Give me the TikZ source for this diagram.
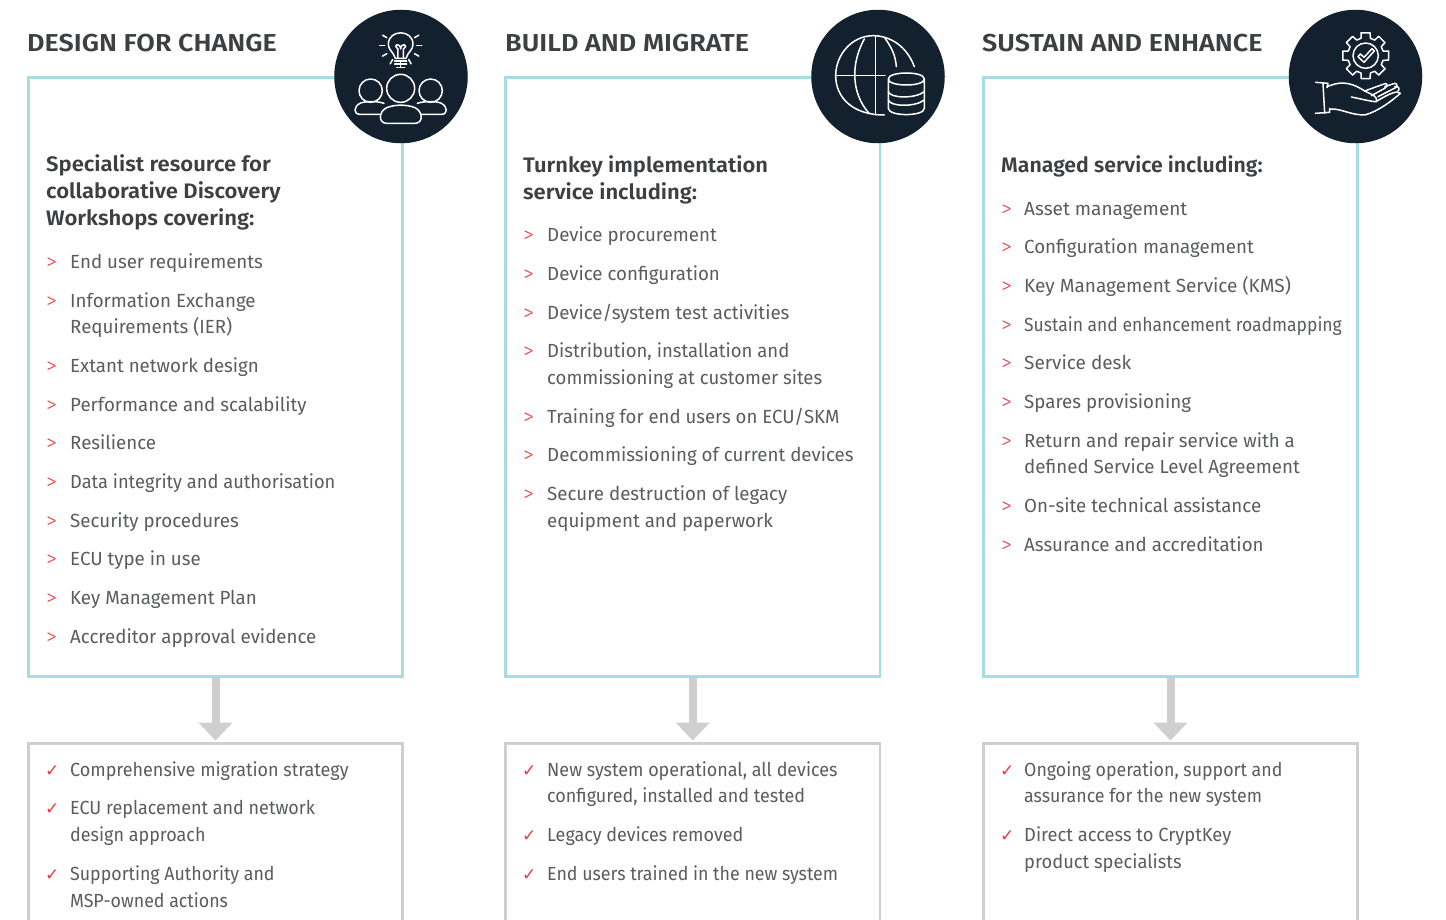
\documentclass[tikz,border=0pt]{standalone}
\usepackage{fontspec}
\setmainfont{Fira Sans}
\newfontfamily\symfont{DejaVu Sans}
\newfontfamily\headfont{Fira Sans SemiBold}
\newfontfamily\thinfont{Fira Sans Light}
\usetikzlibrary{arrows.meta,calc}
\definecolor{tealline}{HTML}{A6DDE2}
\definecolor{greyline}{HTML}{CFCFCF}
\definecolor{navy}{HTML}{13212F}
\definecolor{bodytext}{HTML}{5A5C5E}
\definecolor{headtext}{HTML}{3D3F41}
\definecolor{redmark}{HTML}{EE3A43}
\tikzset{tealbox/.style={draw=tealline,line width=2.5pt,fill=white,minimum width=374.4pt,minimum height=599pt,inner sep=0pt}}
\tikzset{greybox/.style={draw=greyline,line width=2.5pt,fill=white,minimum width=374.4pt,minimum height=200pt,inner sep=0pt}}
\tikzset{flow/.style={draw=greyline,line width=8pt,shorten >=1.5pt,-{Triangle[width=33pt,length=18pt]}}}
\tikzset{badge/.style={circle,fill=navy,draw=none,minimum size=133.5pt,inner sep=0pt}}
\tikzset{icon/.style={draw=white,line width=1.5pt,line cap=round,line join=round}}
\tikzset{hd/.style={anchor=base west,inner sep=0pt,xscale=1.1,text=headtext,font=\fontsize{24.5}{28}\headfont}}
\tikzset{sub/.style={anchor=base west,inner sep=0pt,align=left,xscale=1.05,text=headtext,font=\fontsize{21}{26.6}\headfont}}
\tikzset{tx/.style={anchor=base west,inner sep=0pt,align=left,xscale=0.985,text=bodytext,font=\fontsize{19}{26.7}\selectfont}}
\tikzset{txl/.style={tx,xscale=0.96}}
\tikzset{bl/.style={anchor=base west,inner sep=0pt,text=redmark,font=\fontsize{22}{24}\thinfont}}
\tikzset{ck/.style={anchor=base west,inner sep=0pt,text=redmark,font=\fontsize{17}{18}\symfont}}
\begin{document}
\begin{tikzpicture}[x=1pt,y=-1pt]
  \useasboundingbox (0,0) rectangle (1446,919);
  \clip (0,0) rectangle (1446,919);
  \fill[white] (0,0) rectangle (1446,919);
  % boxes
  \node[tealbox] (topa) at (215.5,377.2) {};
  \node[tealbox] (topb) at (692.7,377.2) {};
  \node[tealbox] (topc) at (1170.5,377.2) {};
  \node[greybox] (lowa) at (215.5,843.3) {};
  \node[greybox] (lowb) at (692.7,843.3) {};
  \node[greybox] (lowc) at (1170.5,843.3) {};
  \draw[flow] (topa) -- (lowa);
  \draw[flow] (topb) -- (lowb);
  \draw[flow] (topc) -- (lowc);
  % badges
  \node[badge] (bada) at (401,76.5) {};
  \node[badge] (badb) at (878,76.5) {};
  \node[badge] (badc) at (1355.5,76.5) {};
  % headings
  \node[hd] (hda) at (27,51) {DESIGN FOR CHANGE};
  \node[hd] (hdb) at (505,51) {BUILD AND MIGRATE};
  \node[hd] (hdc) at (982,51) {SUSTAIN AND ENHANCE};
  \node[sub] (suba) at (46,225) {Specialist resource for\\collaborative Discovery\\Workshops covering:};
  \node[sub,xscale=0.995] (subb) at (523,199) {Turnkey implementation\\service including:};
  \node[sub,xscale=0.965] (subc) at (1001,172) {Managed service including:};
  % first column
  \node[bl] (a1) at (46,269) {>}; \node[tx] (ta1) at (70,268) {End user requirements};
  \node[bl] (a2) at (46,308) {>}; \node[tx] (ta2) at (70,333) {Information Exchange\\[-0.7pt]Requirements (IER)};
  \node[bl] (a3) at (46,373) {>}; \node[tx] (ta3) at (70,372) {Extant network design};
  \node[bl] (a4) at (46,412) {>}; \node[tx] (ta4) at (70,411) {Performance and scalability};
  \node[bl] (a5) at (46,450) {>}; \node[tx] (ta5) at (70,449) {Resilience};
  \node[bl] (a6) at (46,489) {>}; \node[tx,xscale=0.975] (ta6) at (70,488) {Data integrity and authorisation};
  \node[bl] (a7) at (46,528) {>}; \node[tx] (ta7) at (70,527) {Security procedures};
  \node[bl] (a8) at (46,566) {>}; \node[tx] (ta8) at (70,565) {ECU type in use};
  \node[bl] (a9) at (46,605) {>}; \node[tx] (ta9) at (70,604) {Key Management Plan};
  \node[bl] (a10) at (46,644) {>}; \node[tx] (ta10) at (70,643) {Accreditor approval evidence};
  % second column
  \node[bl] (b1) at (523,242) {>}; \node[tx] (tb1) at (547,241) {Device procurement};
  \node[bl] (b2) at (523,281) {>}; \node[tx] (tb2) at (547,280) {Device configuration};
  \node[bl] (b3) at (523,320) {>}; \node[tx] (tb3) at (547,319) {Device/system test activities};
  \node[bl] (b4) at (523,358) {>}; \node[tx,xscale=0.99] (tb4) at (547,384) {Distribution, installation and\\commissioning at customer sites};
  \node[bl] (b5) at (523,424) {>}; \node[tx,xscale=0.992] (tb5) at (547,423) {Training for end users on ECU/SKM};
  \node[bl] (b6) at (523,462) {>}; \node[tx] (tb6) at (547,461) {Decommissioning of current devices};
  \node[bl] (b7) at (523,501) {>}; \node[tx] (tb7) at (547,527) {Secure destruction of legacy\\equipment and paperwork};
  % third column
  \node[bl] (c1) at (1001,216) {>}; \node[tx,xscale=1.015] (tc1) at (1024,215) {Asset management};
  \node[bl] (c2) at (1001,254) {>}; \node[tx] (tc2) at (1024,253) {Configuration management};
  \node[bl] (c3) at (1001,293) {>}; \node[tx,xscale=1.015] (tc3) at (1024,292) {Key Management Service (KMS)};
  \node[bl] (c4) at (1001,332) {>}; \node[tx,xscale=0.936] (tc4) at (1024,331) {Sustain and enhancement roadmapping};
  \node[bl] (c5) at (1001,370) {>}; \node[tx,xscale=1.015] (tc5) at (1024,369) {Service desk};
  \node[bl] (c6) at (1001,409) {>}; \node[tx] (tc6) at (1024,408) {Spares provisioning};
  \node[bl] (c7) at (1001,448) {>}; \node[tx] (tc7) at (1024,473) {Return and repair service with a\\[-0.7pt]defined Service Level Agreement};
  \node[bl] (c8) at (1001,513) {>}; \node[tx] (tc8) at (1024,512) {On-site technical assistance};
  \node[bl] (c9) at (1001,552) {>}; \node[tx] (tc9) at (1024,551) {Assurance and accreditation};
  % outcomes
  \node[ck] (d1) at (45,776) {✓}; \node[txl] (td1) at (70,776) {Comprehensive migration strategy};
  \node[ck] (d2) at (45,814) {✓}; \node[txl] (td2) at (70,841) {ECU replacement and network\\design approach};
  \node[ck] (d3) at (45,880) {✓}; \node[txl,xscale=0.99] (td3) at (70,907) {Supporting Authority and\\MSP-owned actions};
  \node[ck] (e1) at (522,776) {✓}; \node[txl] (te1) at (547,802) {New system operational, all devices\\[-0.7pt]configured, installed and tested};
  \node[ck] (e2) at (522,841) {✓}; \node[txl] (te2) at (547,841) {Legacy devices removed};
  \node[ck] (e3) at (522,880) {✓}; \node[txl,xscale=0.99] (te3) at (547,880) {End users trained in the new system};
  \node[ck] (f1) at (1000,776) {✓}; \node[txl,xscale=0.99] (tf1) at (1024,802) {Ongoing operation, support and\\[-0.7pt]assurance for the new system};
  \node[ck] (f2) at (1000,841) {✓}; \node[txl,xscale=1.02] (tf2) at (1024,868) {Direct access to CryptKey\\product specialists};
  % bulb and people
  \begin{scope}[shift={(330,5)},x=0.3333pt,y=-0.3333pt,icon]
    \draw (196,160) .. controls (190,140) and (175,135) .. (175,118) .. controls (175,72) and (249,72) .. (249,118) .. controls (249,135) and (234,140) .. (228,160) -- cycle;
    \draw (204,160) -- (204,132) .. controls (185,118) and (212,112) .. (212,132) .. controls (212,112) and (239,118) .. (220,132) -- (220,160);
    \draw (194,168) -- (230,168) (194,177) -- (230,177) (200,187) -- (224,187);
    \foreach \a in {-30,0,30,60,90,120,150,180,210}
      \draw (212,122)++(\a:48) -- ++(\a:15);
    \draw (212,250) circle (42);
    \draw (170,355) .. controls (145,355) and (145,320) .. (170,308) .. controls (195,298) and (230,298) .. (255,308) .. controls (280,320) and (280,355) .. (255,355) -- cycle;
    \draw (122,257) circle (35);
    \draw (302,257) circle (35);
    \draw (150,328) -- (90,328) .. controls (70,328) and (70,305) .. (90,295) .. controls (100,289) and (140,287) .. (162,295);
    \draw (274,328) -- (334,328) .. controls (354,328) and (354,305) .. (334,295) .. controls (324,289) and (284,287) .. (262,295);
  \end{scope}
  % globe and drum
  \begin{scope}[shift={(805,5)},x=0.3333pt,y=-0.3333pt,icon]
    \draw (328,185) .. controls (300,110) and (240,92) .. (205,92) .. controls (140,92) and (92,150) .. (92,212) .. controls (92,275) and (140,330) .. (238,330);
    \draw (212,92) -- (212,330) (92,212) -- (240,212);
    \draw (178,102) .. controls (140,170) and (135,260) .. (192,325);
    \draw (240,100) .. controls (262,130) and (272,155) .. (274,185);
    \draw (250,222) .. controls (250,198) and (358,198) .. (358,222) .. controls (358,246) and (250,246) .. (250,222) -- (250,310) .. controls (250,335) and (358,335) .. (358,310) -- (358,222);
    \draw (250,260) .. controls (255,280) and (330,282) .. (358,260);
    \draw (250,285) .. controls (255,305) and (330,307) .. (358,285);
  \end{scope}
  % gear and hand
  \begin{scope}[shift={(1283,5)},x=0.3333pt,y=-0.3333pt,icon]
    \foreach \a in {0,45,...,315}
      \draw ($(248,152)+(\a-11:70)$) -- ($(248,152)+(\a+11:70)$) -- ($(248,152)+(\a+15:54)$) -- ($(248,152)+(\a+30:54)$) -- ($(248,152)+(\a+34:70)$);
    \draw (248,152) circle (38);
    \draw (225,155) -- (243,172) -- (274,138) -- (267,131) -- (243,157) -- (232,147) -- cycle;
    \draw (98,232) -- (135,235) -- (132,248) (120,235) -- (125,325) (97,325) -- (140,322) -- (140,310);
    \draw (132,245) .. controls (165,232) and (195,225) .. (245,258) .. controls (270,270) and (285,275) .. (280,290) .. controls (265,290) and (235,282) .. (205,276);
    \draw (140,312) .. controls (175,310) and (200,330) .. (245,330) .. controls (285,320) and (330,285) .. (352,265) .. controls (345,255) and (320,265) .. (282,288);
    \draw (245,258) -- (300,238) .. controls (310,232) and (320,240) .. (305,250) -- (265,272);
    \draw (305,245) -- (335,235) .. controls (345,235) and (345,248) .. (330,252) -- (285,275);
    \draw (335,245) .. controls (350,242) and (350,255) .. (345,258);
  \end{scope}
\end{tikzpicture}
\end{document}
